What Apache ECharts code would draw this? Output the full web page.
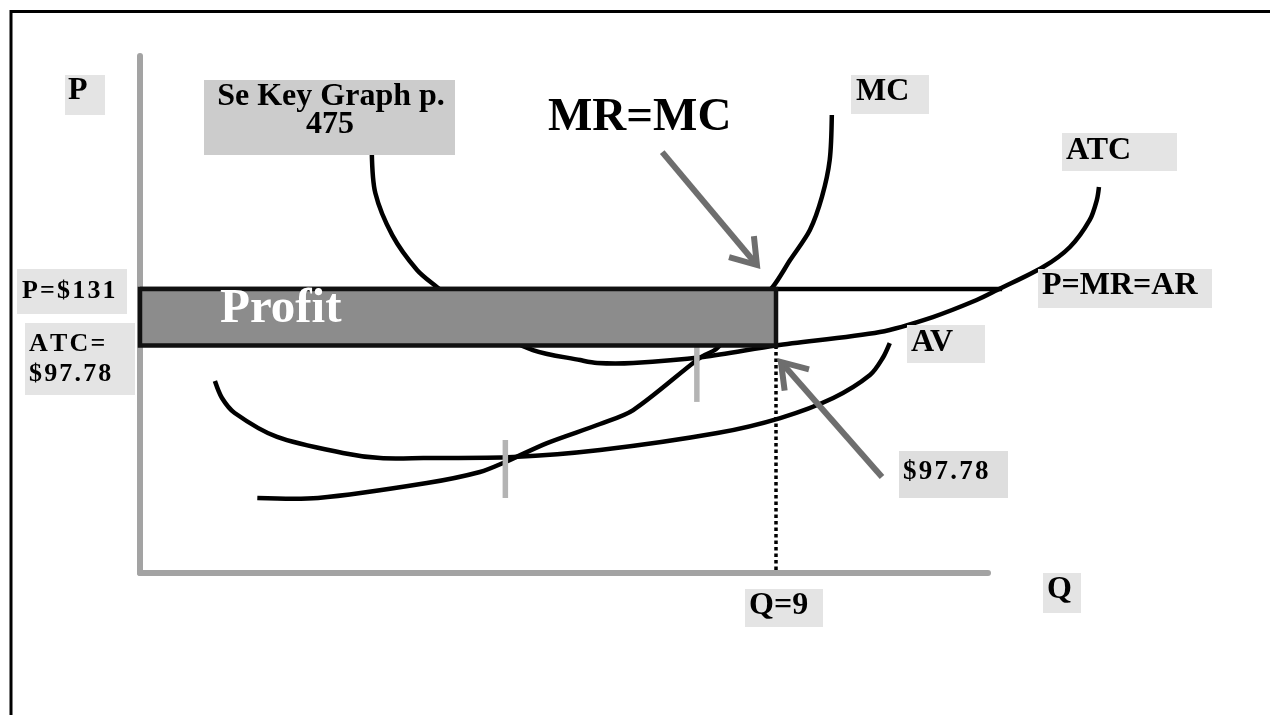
<!DOCTYPE html>
<html>
<head>
<meta charset="utf-8">
<title>Profit maximization: P=MR=AR, MC, ATC, AVC</title>
<script src="https://cdn.jsdelivr.net/npm/echarts@6/dist/echarts.min.js"></script>
<style>
  html, body { margin: 0; padding: 0; background: #fff; }
  #chart { width: 1270px; height: 715px; }
</style>
</head>
<body>
<div id="chart"></div>
<script>
// Key values of the firm's decision
const price = 131;       // P = MR = AR
const atcAtQ = 97.78;    // ATC at the chosen output
const qStar = 9;         // output where MR = MC
const demandEndQ = 12.2; // right end of the price line

// Cost curves as [Q, P] points
const mcCurve = [
  [1.66, 8.1], [2.52, 8.1], [4.06, 16.9], [4.81, 23.4], [5.17, 29.3],
  [5.76, 40.4], [6.51, 51.6], [6.98, 59.8], [7.92, 90.4], [8.17, 96.3],
  [8.95, 132.0], [9.20, 148.0], [9.48, 165.7], [9.65, 185.1], [9.76, 206.8],
  [9.79, 233.3]
];
const avcCurve = [
  [1.06, 76.9], [1.16, 66.9], [1.34, 58.1], [1.94, 44.0], [2.87, 34.6],
  [3.40, 31.6], [4.01, 31.6], [5.28, 32.2], [6.51, 36.3], [8.17, 46.3],
  [9.06, 55.1], [9.81, 66.9], [10.33, 80.4], [10.51, 90.4], [10.61, 99.2]
];
const atcCurve = [
  [3.28, 211.5], [3.33, 187.4], [3.57, 162.7], [3.92, 142.2], [4.20, 132.2],
  [4.88, 109.8], [5.56, 95.1], [6.23, 89.2], [6.47, 87.5], [6.98, 87.5],
  [7.97, 91.0], [9.00, 97.78], [10.47, 105.7], [11.22, 114.5], [11.84, 124.5],
  [12.13, 130.4], [12.78, 143.9], [13.16, 155.7], [13.44, 171.6], [13.54, 183.3],
  [13.57, 191.0]
];
// Minimum points of AVC and ATC (where MC crosses them): [Q, top P, bottom P]
const minMarks = [
  [5.17, 42.2, 8.1],
  [7.88, 97.78, 64.6]
];
// Pointer arrows: [fromQ, fromP, toQ, toP]
const arrows = [
  [7.39, 211.5, 8.73, 145.1],
  [10.50, 20.5, 9.07, 88.1]
];
// Axis ranges
const qRange = [0, 12];
const pRange = [-36, 268];

const serif = '"Liberation Serif", "Times New Roman", "DejaVu Serif", serif';
const spaced = s => s.split('').join('\u200A');

const chart = echarts.init(document.getElementById('chart'));

function boxLabel(x, y, w, h, fill, lines, opts) {
  const o = opts || {};
  const els = [{
    type: 'rect', shape: { x: x, y: y, width: w, height: h },
    style: { fill: fill }, z: 20
  }];
  lines.forEach(function (ln) {
    els.push({
      type: 'text', z: 21,
      style: {
        text: ln.text, x: ln.x, y: ln.y,
        font: 'bold ' + (o.size || 32) + 'px ' + serif,
        fill: '#000', textAlign: ln.align || 'left', textVerticalAlign: 'middle'
      }
    });
  });
  return els;
}

const graphics = [].concat(
  // page frame
  [{ type: 'rect', shape: { x: 11, y: 11.5, width: 1400, height: 900 },
     style: { fill: null, stroke: '#000', lineWidth: 3 }, z: 30 }],
  boxLabel(65, 75, 40, 40, '#e4e4e4', [{ text: 'P', x: 68, y: 91 }]),
  boxLabel(204, 80, 251, 75, '#cccccc', [
    { text: 'Se Key Graph p.', x: 331, y: 97, align: 'center' },
    { text: '475', x: 330, y: 125, align: 'center' }
  ]),
  boxLabel(851, 75, 78, 39, '#e4e4e4', [{ text: 'MC', x: 856, y: 92 }]),
  boxLabel(1062, 133, 115, 38, '#e4e4e4', [{ text: 'ATC', x: 1066, y: 151 }]),
  boxLabel(1038, 269, 174, 39, '#e4e4e4', [{ text: 'P=MR=AR', x: 1042, y: 286 }]),
  boxLabel(17, 269, 110, 45, '#e4e4e4', [{ text: spaced('P=$' + price), x: 22, y: 291 }], { size: 26 }),
  boxLabel(25, 323, 110, 72, '#e4e4e4', [
    { text: spaced('ATC='), x: 29, y: 344 },
    { text: spaced('$' + atcAtQ.toFixed(2)), x: 29, y: 374 }
  ], { size: 26 }),
  boxLabel(907, 325, 78, 38, '#e4e4e4', [{ text: 'AV', x: 911, y: 343 }]),
  boxLabel(899, 451, 109, 47, '#dedede', [{ text: spaced('$' + atcAtQ.toFixed(2)), x: 903, y: 472 }], { size: 27 }),
  boxLabel(745, 589, 78, 38, '#e4e4e4', [{ text: 'Q=' + qStar, x: 749, y: 606 }]),
  boxLabel(1043, 573, 38, 40, '#e4e4e4', [{ text: 'Q', x: 1047, y: 590 }]),
  [{ type: 'text', z: 21,
     style: { text: 'MR=MC', x: 548, y: 118, font: 'bold 47px ' + serif,
              fill: '#000', textVerticalAlign: 'middle' } }]
);

// A cost curve drawn as one smoothed stroke through the axis scales
function curve(name, pts) {
  return {
    name: name, type: 'custom', data: pts, z: 2, silent: true, clip: false,
    renderItem: function (params, api) {
      if (params.dataIndex !== 0) return;
      const points = pts.map(function (p) { return api.coord(p); });
      return {
        type: 'polyline',
        shape: { points: points, smooth: 0.3 },
        style: { stroke: '#000', lineWidth: 4.5, fill: 'none', lineJoin: 'round', lineCap: 'butt' }
      };
    }
  };
}

// A straight segment between two [Q, P] points
function segment(name, a, b, style) {
  return {
    name: name, type: 'custom', data: [a.concat(b)], z: 2, silent: true, clip: false,
    renderItem: function (params, api) {
      const p1 = api.coord([api.value(0), api.value(1)]);
      const p2 = api.coord([api.value(2), api.value(3)]);
      return {
        type: 'line', shape: { x1: p1[0], y1: p1[1], x2: p2[0], y2: p2[1] },
        style: Object.assign({ fill: 'none' }, style)
      };
    }
  };
}

chart.setOption({
  animation: false,
  backgroundColor: '#fff',
  grid: { left: 140, top: 56, width: 848, height: 517 },
  xAxis: {
    type: 'value', min: qRange[0], max: qRange[1],
    axisLine: { show: true, onZero: false, lineStyle: { color: '#a3a3a3', width: 6 } },
    axisTick: { show: false }, axisLabel: { show: false }, splitLine: { show: false }
  },
  yAxis: {
    type: 'value', min: pRange[0], max: pRange[1],
    axisLine: { show: true, onZero: false, lineStyle: { color: '#a3a3a3', width: 6 } },
    axisTick: { show: false }, axisLabel: { show: false }, splitLine: { show: false }
  },
  graphic: graphics,
  series: [
    curve('MC', mcCurve),
    curve('AVC', avcCurve),
    curve('ATC', atcCurve),
    segment('P=MR=AR', [0, price], [demandEndQ, price],
            { stroke: '#000', lineWidth: 4.5 }),
    segment('Q line', [qStar, atcAtQ], [qStar, pRange[0]],
            { stroke: '#000', lineWidth: 3.5, lineDash: [3.5, 3] }),
    {
      name: 'minimum marks', type: 'custom', z: 2, silent: true,
      data: minMarks,
      renderItem: function (params, api) {
        const a = api.coord([api.value(0), api.value(1)]);
        const b = api.coord([api.value(0), api.value(2)]);
        return {
          type: 'line', shape: { x1: a[0], y1: a[1], x2: b[0], y2: b[1] },
          style: { stroke: '#b4b4b4', lineWidth: 5.5 }
        };
      }
    },
    {
      name: 'Profit', type: 'custom', z: 5, silent: true,
      data: [[0, price, qStar, atcAtQ]],
      renderItem: function (params, api) {
        const p1 = api.coord([api.value(0), api.value(1)]);
        const p2 = api.coord([api.value(2), api.value(3)]);
        return {
          type: 'group',
          children: [
            { type: 'rect',
              shape: { x: p1[0], y: p1[1], width: p2[0] - p1[0], height: p2[1] - p1[1] },
              style: { fill: '#8c8c8c', stroke: '#111', lineWidth: 4.5 } },
            { type: 'text',
              style: { text: 'Profit', x: p1[0] + 80, y: p1[1] + 20,
                       font: 'bold 49px ' + serif, fill: '#fff', textVerticalAlign: 'middle' } }
          ]
        };
      }
    },
    {
      name: 'arrows', type: 'custom', z: 6, silent: true,
      data: arrows,
      renderItem: function (params, api) {
        const s = api.coord([api.value(0), api.value(1)]);
        const t = api.coord([api.value(2), api.value(3)]);
        const ang = Math.atan2(s[1] - t[1], s[0] - t[0]);
        const len = 29, spread = 34 * Math.PI / 180;
        const h1 = [t[0] + len * Math.cos(ang - spread), t[1] + len * Math.sin(ang - spread)];
        const h2 = [t[0] + len * Math.cos(ang + spread), t[1] + len * Math.sin(ang + spread)];
        const st = { stroke: '#6e6e6e', lineWidth: 6, lineCap: 'butt', lineJoin: 'miter', fill: 'none' };
        return {
          type: 'group',
          children: [
            { type: 'line', shape: { x1: s[0], y1: s[1], x2: t[0], y2: t[1] }, style: st },
            { type: 'polyline', shape: { points: [h1, t, h2] }, style: st }
          ]
        };
      }
    }
  ]
});
</script>
</body>
</html>
